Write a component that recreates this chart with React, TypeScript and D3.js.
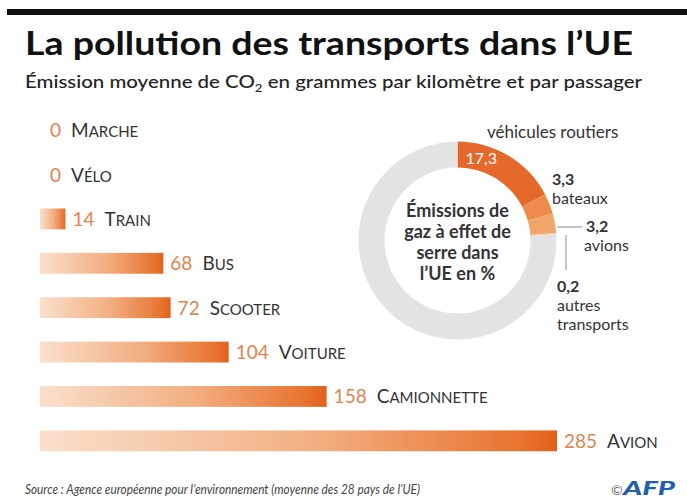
import React from "react";
import * as d3 from "d3";

const categories = ["Marche", "Vélo", "Train", "Bus", "Scooter", "Voiture", "Camionnette", "Avion"];
const values = [0, 0, 14, 68, 72, 104, 158, 285];

const donutCategories = ["véhicules routiers", "bateaux", "avions", "autres transports", "reste"];
const donutValues = [17.3, 3.3, 3.2, 0.2, 76.0];
const donutColors = ["#e4692b", "#ec8b4a", "#f1a56a", "#f6cfa8", "#e3e3e3"];

const W = 687;
const H = 500;
const FONT = "Lato, 'Open Sans', sans-serif";

function SmallCaps({ word, big, small }: { word: string; big: number; small: number }) {
  return (
    <>
      <tspan fontSize={big}>{word[0].toUpperCase()}</tspan>
      <tspan fontSize={small}>{word.slice(1).toUpperCase()}</tspan>
    </>
  );
}

const fmt = (v: number) => String(v).replace(".", ",");

export default function App() {
  const y = d3
    .scaleBand<string>()
    .domain(categories)
    .range([108, 463])
    .paddingInner(0.53)
    .paddingOuter(0.265);
  const x = d3.scaleLinear().domain([0, 285]).range([40, 557]);

  const cx = 457.5;
  const cy = 240.5;
  const pie = d3.pie<number>().sort(null).value((d) => d);
  const arcs = pie(donutValues);
  const arc = d3.arc<d3.PieArcDatum<number>>().innerRadius(73).outerRadius(99);

  const labelAngle = arcs[0].startAngle + 0.28;
  const lr = 86;

  return (
    <svg
      width={W}
      height={H}
      style={{ position: "absolute", left: 0, top: 0, background: "#fff" }}
      fontFamily={FONT}
    >
      <defs>
        <linearGradient id="barGrad" x1="0" x2="1" y1="0" y2="0">
          <stop offset="0" stopColor="#fae0cc" />
          <stop offset="0.55" stopColor="#f2ad7f" />
          <stop offset="0.93" stopColor="#e7732f" />
          <stop offset="1" stopColor="#e2601b" />
        </linearGradient>
      </defs>
      <rect x={0} y={0} width={W} height={H} fill="#fff" />
      <rect x={7} y={9} width={680} height={6} fill="#111" />

      <text x={25} y={55} fontSize={32} fontWeight={700} fill="#111" textLength={608} lengthAdjust="spacingAndGlyphs">
        La pollution des transports dans l’UE
      </text>
      <text x={25} y={88} fontSize={17} fontWeight={500} fill="#222" textLength={617} lengthAdjust="spacingAndGlyphs">
        Émission moyenne de CO<tspan fontSize={11} dy={4}>2</tspan>
        <tspan dy={-4}> en grammes par kilomètre et par passager</tspan>
      </text>

      {categories.map((c, i) => {
        const v = values[i];
        const by = y(c) as number;
        const bw = y.bandwidth();
        return (
          <g key={c}>
            {v > 0 && (
              <rect x={x(0)} y={by} width={x(v) - x(0)} height={bw} fill="url(#barGrad)" />
            )}
            <text x={x(v) + (v > 0 ? 7 : 10)} y={by + bw / 2 + 7} fontSize={19} fill="#e0834e">
              {v}
              <tspan dx={10} fill="#333">
                <SmallCaps word={c} big={19} small={15} />
              </tspan>
            </text>
          </g>
        );
      })}

      <g transform={`translate(${cx},${cy})`}>
        {arcs.map((a, i) => (
          <path key={donutCategories[i]} d={arc(a) as string} fill={donutColors[i]} />
        ))}
        <text
          x={lr * Math.sin(labelAngle)}
          y={-lr * Math.cos(labelAngle) + 6}
          fontSize={16}
          fill="#fff"
          textAnchor="middle"
        >
          {fmt(donutValues[0])}
        </text>
        <g fontSize={18} fontWeight={700} fill="#333" textAnchor="middle">
          <text x={0} y={-24}>Émissions de</text>
          <text x={0} y={-3}>gaz à effet de</text>
          <text x={0} y={18}>serre dans</text>
          <text x={0} y={39}>l’UE en %</text>
        </g>
      </g>

      <g fontSize={16} fill="#333">
        <text x={487} y={138} fontSize={17}>{donutCategories[0]}</text>
        <text x={552} y={185} fontWeight={700}>{fmt(donutValues[1])}</text>
        <text x={552} y={204}>{donutCategories[1]}</text>
        <text x={586} y={232} fontWeight={700}>{fmt(donutValues[2])}</text>
        <text x={584} y={251}>{donutCategories[2]}</text>
        <text x={557} y={292} fontWeight={700}>{fmt(donutValues[3])}</text>
        <text x={557} y={311}>autres</text>
        <text x={557} y={330}>transports</text>
      </g>
      <line x1={557} x2={582} y1={227} y2={227} stroke="#9aa3ad" strokeWidth={1.2} />
      <line x1={566} x2={566} y1={235} y2={270} stroke="#9aa3ad" strokeWidth={1.2} />

      <text x={25} y={494} fontSize={13} fontStyle="italic" fill="#444" textLength={395} lengthAdjust="spacingAndGlyphs">
        Source : Agence européenne pour l’environnement (moyenne des 28 pays de l’UE)
      </text>
      <text x={611} y={495} fontSize={14} fill="#666">©</text>
      <text x={623} y={495} fontSize={19} fontWeight={900} fontStyle="italic" fill="#1f5fae" textLength={52} lengthAdjust="spacingAndGlyphs">
        AFP
      </text>
    </svg>
  );
}
